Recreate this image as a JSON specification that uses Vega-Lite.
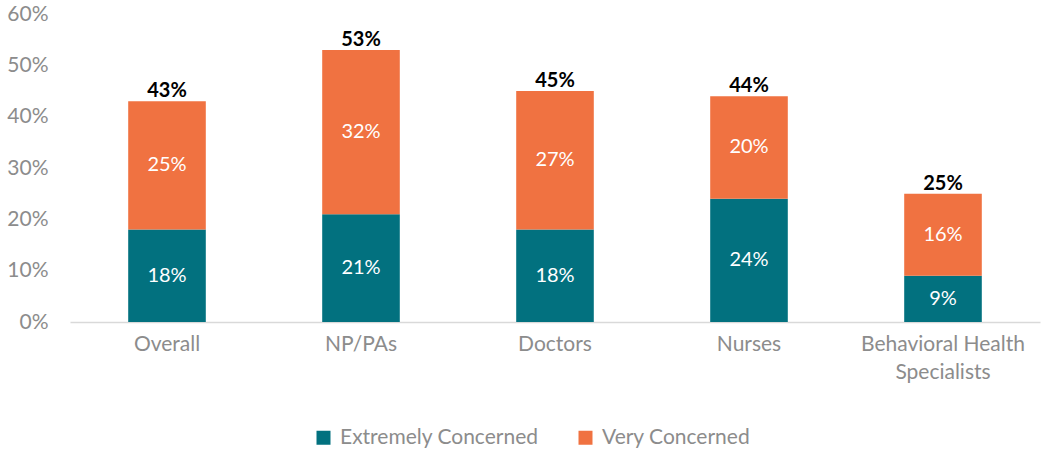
{
  "$schema": "https://vega.github.io/schema/vega-lite/v6.json",
  "autosize": {"type": "none"},
  "width": 970,
  "height": 308,
  "padding": {"left": 70, "top": 14, "right": 6, "bottom": 127},
  "background": "white",
  "config": {
    "view": {"stroke": null},
    "font": "Lato",
    "text": {"font": "Lato"}
  },
  "data": {
    "values": [
      {"category": "Overall", "series": "Extremely Concerned", "value": 0.18},
      {"category": "Overall", "series": "Very Concerned", "value": 0.25},
      {"category": "NP/PAs", "series": "Extremely Concerned", "value": 0.21},
      {"category": "NP/PAs", "series": "Very Concerned", "value": 0.32},
      {"category": "Doctors", "series": "Extremely Concerned", "value": 0.18},
      {"category": "Doctors", "series": "Very Concerned", "value": 0.27},
      {"category": "Nurses", "series": "Extremely Concerned", "value": 0.24},
      {"category": "Nurses", "series": "Very Concerned", "value": 0.20},
      {"category": "Behavioral Health Specialists", "series": "Extremely Concerned", "value": 0.09},
      {"category": "Behavioral Health Specialists", "series": "Very Concerned", "value": 0.16}
    ]
  },
  "encoding": {
    "x": {
      "field": "category",
      "type": "nominal",
      "sort": null,
      "scale": {"paddingInner": 0.6, "paddingOuter": 0.3},
      "axis": {
        "title": null,
        "labelAngle": 0,
        "labelFont": "Lato",
        "labelFontSize": 21,
        "labelColor": "#8C8C8C",
        "labelPadding": 11,
        "labelLineHeight": 28,
        "labelExpr": "datum.value == 'Behavioral Health Specialists' ? ['Behavioral Health', 'Specialists'] : datum.value",
        "domainColor": "#D9D9D9",
        "domainWidth": 1.5,
        "ticks": false,
        "grid": false
      }
    }
  },
  "layer": [
    {
      "mark": {"type": "bar"},
      "encoding": {
        "y": {
          "aggregate": "sum",
          "field": "value",
          "type": "quantitative",
          "stack": "zero",
          "scale": {"domain": [0, 0.6], "nice": false},
          "axis": {
            "title": null,
            "format": ".0%",
            "values": [0, 0.1, 0.2, 0.3, 0.4, 0.5, 0.6],
            "labelFont": "Lato",
            "labelFontSize": 21,
            "labelColor": "#8C8C8C",
            "labelPadding": 22,
            "domain": false,
            "ticks": false,
            "grid": false
          }
        },
        "order": {"field": "series", "type": "nominal", "sort": "ascending"},
        "color": {
          "field": "series",
          "type": "nominal",
          "scale": {
            "domain": ["Extremely Concerned", "Very Concerned"],
            "range": ["#02717F", "#F07241"]
          },
          "legend": {
            "title": null,
            "orient": "none",
            "direction": "horizontal",
            "legendX": 243,
            "legendY": 413,
            "symbolType": "square",
            "symbolSize": 196,
            "symbolStrokeWidth": 0,
            "symbolOpacity": 1,
            "labelFont": "Lato",
            "labelFontSize": 21,
            "labelColor": "#8C8C8C",
            "labelOffset": 6,
            "columnPadding": 36,
            "labelLimit": 400
          }
        }
      }
    },
    {
      "transform": [
        {"stack": "value", "groupby": ["category"], "sort": [{"field": "series", "order": "ascending"}], "as": ["v0", "v1"]},
        {"fold": ["v0", "v1"], "as": ["edge", "pos"]}
      ],
      "mark": {"type": "text", "color": "white", "fontSize": 20, "font": "Lato", "baseline": "middle"},
      "encoding": {
        "y": {"aggregate": "mean", "field": "pos", "type": "quantitative"},
        "detail": {"field": "series"},
        "text": {"aggregate": "max", "field": "value", "type": "quantitative", "format": ".0%"}
      }
    },
    {
      "mark": {"type": "text", "color": "black", "fontSize": 20, "fontWeight": "bold", "font": "Lato", "baseline": "bottom", "dy": 0},
      "encoding": {
        "y": {"aggregate": "sum", "field": "value", "type": "quantitative"},
        "text": {"aggregate": "sum", "field": "value", "type": "quantitative", "format": ".0%"}
      }
    }
  ]
}
